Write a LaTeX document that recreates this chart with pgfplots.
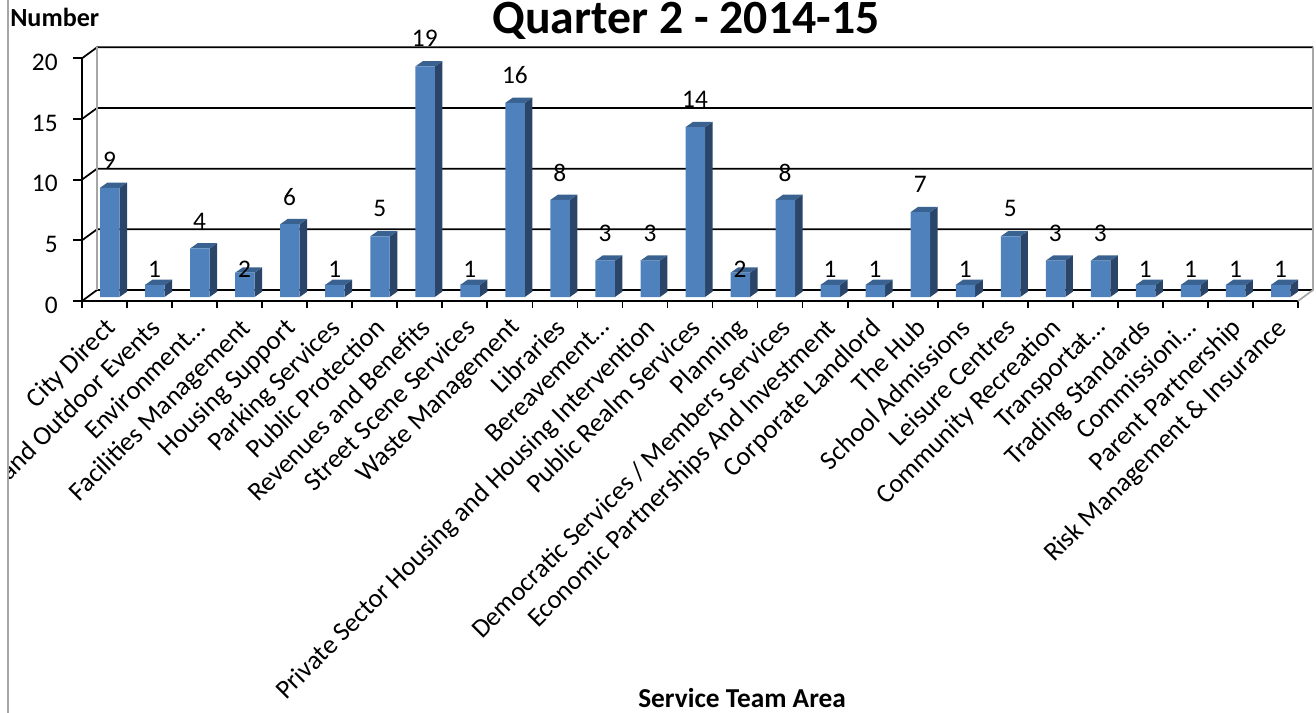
\documentclass[border=0pt]{standalone}
\usepackage{pgfplots}
\usepackage{pgfplotstable}
\usepackage{fontspec}
\setmainfont{Carlito}
\pgfplotsset{compat=1.18}

\definecolor{barfront}{HTML}{4F81BD}
\definecolor{barside}{HTML}{2A4568}
\definecolor{bartop}{HTML}{3A6291}
\definecolor{wallgray}{HTML}{A6A6A6}

% i = category position, v = number, lab = height of the value label
\pgfplotstableread{
i v lab
0 9 11.6
1 1 2.65
2 4 6.6
3 2 2.65
4 6 8.6
5 1 2.65
6 5 7.65
7 19 21.67
8 1 2.65
9 16 18.63
10 8 10.57
11 3 5.6
12 3 5.6
13 14 16.6
14 2 2.65
15 8 10.57
16 1 2.65
17 1 2.65
18 7 9.6
19 1 2.65
20 5 7.65
21 3 5.6
22 3 5.6
23 1 2.65
24 1 2.65
25 1 2.65
26 1 2.65
}\servicetable

\newcommand{\labelfont}{\fontsize{20pt}{22pt}\selectfont}

\begin{document}
\begin{tikzpicture}
\useasboundingbox (0pt,-534.75pt) rectangle (987pt,0pt);
\begin{scope}
\clip (6pt,-534.75pt) rectangle (987pt,0pt);
\begin{axis}[
  at={(61.5pt,-225.75pt)}, anchor=south west,
  scale only axis, width=912pt, height=182pt,
  xmin=-0.5, xmax=26.5, ymin=0, ymax=20,
  clip=false,
  axis lines=left,
  axis line style={-, black, line width=1.3pt},
  tick align=outside,
  xtick={0,...,26},
  minor xtick={-0.5,0.5,...,26.5},
  major x tick style={draw=none},
  minor x tick style={black, line width=1.3pt},
  minor tick length=5.6pt,
  ytick={0,5,10,15,20},
  y tick style={black, line width=1.3pt},
  major tick length=6.75pt,
  xticklabels={City Direct, Parks and Outdoor Events, Environment…, Facilities Management, Housing Support, Parking Services, Public Protection, Revenues and Benefits, Street Scene Services, Waste Management, Libraries, Bereavement…, Private Sector Housing and Housing Intervention, Public Realm Services, Planning, Democratic Services / Members Services, Economic Partnerships And Investment, Corporate Landlord, The Hub, School Admissions, Leisure Centres, Community Recreation, Transportat…, Trading Standards, Commissioni…, Parent Partnership, Risk Management \& Insurance},
  xticklabel style={rotate=45, anchor=north east, inner sep=0pt, font=\labelfont, xshift=-3.9pt, yshift=-2.7pt},
  yticklabel style={font=\fontsize{19pt}{21pt}\selectfont, xshift=-8pt, yshift=-3pt},
  /pgf/number format/assume math mode=true,
]
  % back wall and floor lines
  \addplot[black, line width=1.3pt] coordinates {(-0.5,0) (-0.167,0.906) (26.833,0.906)};
  \addplot[black, line width=1.3pt] coordinates {(-0.5,5) (-0.167,5.906) (26.833,5.906)};
  \addplot[black, line width=1.3pt] coordinates {(-0.5,10) (-0.167,10.906) (26.833,10.906)};
  \addplot[black, line width=1.3pt] coordinates {(-0.5,15) (-0.167,15.906) (26.833,15.906)};
  \addplot[black, line width=1.3pt] coordinates {(-0.5,20) (-0.167,20.906) (26.833,20.906)};
  \addplot[wallgray, line width=1.3pt] coordinates {(-0.167,0.906) (-0.167,20.906)};
  \addplot[wallgray, line width=1.3pt] coordinates {(26.5,0) (26.833,0.906) (26.833,20.906)};

  % side and top faces of each bar
  \pgfplotsinvokeforeach{0,...,26}{
    \pgfplotstablegetelem{#1}{v}\of\servicetable
    \pgfmathsetmacro\barl{#1-0.100}
    \pgfmathsetmacro\barr{#1+0.333}
    \pgfmathsetmacro\barrb{#1+0.500}
    \pgfmathsetmacro\barlb{#1+0.067}
    \pgfmathsetmacro\barbase{0.33}
    \pgfmathsetmacro\barbaseb{0.33+0.437}
    \pgfmathsetmacro\bartopf{\pgfplotsretval+0.33}
    \pgfmathsetmacro\bartopb{\pgfplotsretval+0.33+0.437}
    \edef\barfaces{%
      \noexpand\addplot[fill=barside, draw=none] coordinates {(\barr,\barbase) (\barrb,\barbaseb) (\barrb,\bartopb) (\barr,\bartopf)} --cycle;
      \noexpand\addplot[fill=bartop, draw=none] coordinates {(\barl,\bartopf) (\barr,\bartopf) (\barrb,\bartopb) (\barlb,\bartopb)} --cycle;
    }
    \barfaces
  }

  % front faces
  \addplot[ybar, bar width=14.6pt, bar shift=3.95pt, fill=barfront, draw=none, shift={(0pt,3pt)}]
    table[x=i, y=v] {\servicetable};

  % value labels
  \addplot[draw=none, mark=none, point meta=explicit,
    nodes near coords, nodes near coords align={anchor=center},
    every node near coord/.append style={font=\fontsize{19pt}{21pt}\selectfont, inner sep=0pt, xshift=3.75pt}]
    table[x=i, y=lab, meta=v] {\servicetable};
\end{axis}
\end{scope}

\begin{scope}[x=0.75pt,y=-0.75pt]
\fill[wallgray] (7,0) rectangle (9,713);
\node[anchor=base, font=\fontsize{35.8pt}{38pt}\selectfont\bfseries, inner sep=0pt] at (686,34) {Quarter 2 - 2014-15};
\node[anchor=base west, font=\fontsize{19.6pt}{22pt}\selectfont\bfseries, inner sep=0pt] at (10,26.7) {Number};
\node[anchor=base west, font=\fontsize{20.5pt}{22pt}\selectfont\bfseries, inner sep=0pt] at (638,707) {Service Team Area};
\end{scope}
\end{tikzpicture}
\end{document}
